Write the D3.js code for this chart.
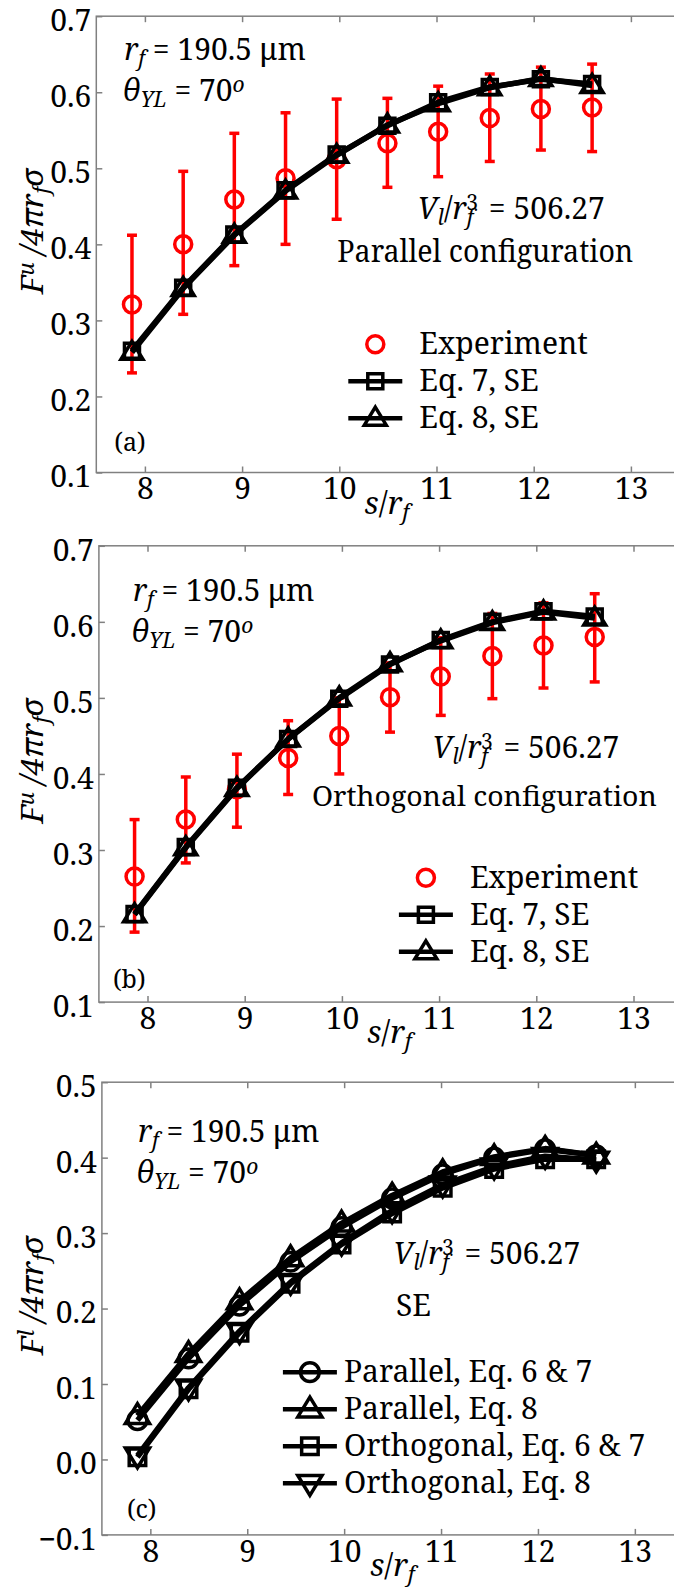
<!DOCTYPE html>
<html>
<head>
<meta charset="utf-8">
<script src="https://cdn.jsdelivr.net/npm/d3@7"></script>
<style>
  body { margin: 0; background: #fff; }
  svg text { font-family: "Noto Serif", "Liberation Serif", serif !important; fill: #000; }
</style>
</head>
<body>
<svg width="674" height="1595"></svg>
<script>
// s / r_f positions shared by all panels
var sr = [7.867, 8.394, 8.920, 9.447, 9.973, 10.495, 11.017, 11.548, 12.074, 12.601];

// (a) parallel configuration, upper force
var expA = [0.321, 0.400, 0.459, 0.487, 0.512, 0.533, 0.548, 0.566, 0.578, 0.580];
var expA_lo = [0.231, 0.308, 0.372, 0.400, 0.433, 0.475, 0.489, 0.509, 0.524, 0.522];
var expA_hi = [0.412, 0.496, 0.546, 0.573, 0.591, 0.592, 0.608, 0.624, 0.633, 0.637];
var eq7A = [0.260, 0.343, 0.413, 0.471, 0.518, 0.556, 0.587, 0.607, 0.617, 0.611];
var eq8A = [0.258, 0.342, 0.412, 0.470, 0.517, 0.557, 0.585, 0.606, 0.618, 0.609];

// (b) orthogonal configuration, upper force
var expB = [0.265, 0.340, 0.380, 0.421, 0.450, 0.501, 0.528, 0.555, 0.569, 0.580];
var expB_lo = [0.192, 0.283, 0.330, 0.373, 0.400, 0.455, 0.477, 0.499, 0.513, 0.521];
var expB_hi = [0.340, 0.396, 0.426, 0.470, 0.500, 0.546, 0.579, 0.611, 0.625, 0.637];
var eq7B = [0.216, 0.304, 0.382, 0.446, 0.499, 0.544, 0.576, 0.600, 0.614, 0.607];
var eq8B = [0.215, 0.303, 0.381, 0.446, 0.500, 0.545, 0.575, 0.599, 0.613, 0.605];

// (c) lower force
var parEq67 = [0.052, 0.134, 0.204, 0.262, 0.308, 0.346, 0.378, 0.400, 0.411, 0.403];
var parEq8 = [0.058, 0.140, 0.210, 0.267, 0.313, 0.350, 0.381, 0.401, 0.412, 0.403];
var ortEq67 = [0.003, 0.093, 0.168, 0.233, 0.285, 0.326, 0.360, 0.385, 0.398, 0.398];
var ortEq8 = [0.005, 0.095, 0.170, 0.235, 0.287, 0.330, 0.364, 0.388, 0.402, 0.397];

var xTicks = [8, 9, 10, 11, 12, 13];
var yTicksAB = [0.1, 0.2, 0.3, 0.4, 0.5, 0.6, 0.7];
var yTicksC = [-0.1, 0.0, 0.1, 0.2, 0.3, 0.4, 0.5];

var svg = d3.select("svg");
var fmt = d3.format(".1f");
var TXT = 30;

// marker shapes
function marker(g, type, x, y, color, s) {
  s = s || 1;
  var p;
  if (type == "circle") {
    return g.append("circle").attr("cx", x).attr("cy", y).attr("r", 8.5 * s)
      .attr("fill", "none").attr("stroke", color).attr("stroke-width", 3.5);
  }
  if (type == "square") p = "M" + (x-7.5*s) + "," + (y-7.5*s) + "h" + 15*s + "v" + 15*s + "h" + (-15*s) + "z";
  if (type == "up") p = "M" + x + "," + (y-11*s) + "L" + (x+11*s) + "," + (y+7*s) + "L" + (x-11*s) + "," + (y+7*s) + "Z";
  if (type == "down") p = "M" + x + "," + (y+11*s) + "L" + (x+11*s) + "," + (y-7*s) + "L" + (x-11*s) + "," + (y-7*s) + "Z";
  return g.append("path").attr("d", p).attr("fill", "none")
    .attr("stroke", color).attr("stroke-width", 3.5).attr("stroke-linejoin", "miter");
}

// text with sub / sup parts: [string, kind, dx]
function mtext(g, x, y, parts, size) {
  var t = g.append("text").attr("x", x).attr("y", y).style("font-size", size + "px");
  parts.forEach(function(p) {
    var s = t.append("tspan").text(p[0]);
    if (p[1].indexOf("i") >= 0) s.style("font-style", "italic");
    if (p[1].indexOf("b") >= 0) s.style("baseline-shift", "-28%").style("font-size", (size*0.7) + "px");
    if (p[1].indexOf("p") >= 0) s.style("baseline-shift", "42%").style("font-size", (size*0.7) + "px");
    if (p[2]) s.attr("dx", p[2]);
  });
  return t;
}

function panel(cfg) {
  var g = svg.append("g");
  var x = d3.scaleLinear().domain([7.5, 13.5]).range([cfg.left, cfg.left + 6 * cfg.unit]);
  var y = d3.scaleLinear().domain(cfg.ydom).range([cfg.bottom, cfg.top]);

  // frame
  g.append("rect").attr("x", x.range()[0]).attr("y", cfg.top)
    .attr("width", x.range()[1] - x.range()[0]).attr("height", cfg.bottom - cfg.top)
    .attr("fill", "none").attr("stroke", "#808080").attr("stroke-width", 1.5);

  var xb = g.append("g").attr("transform", "translate(0," + cfg.bottom + ")")
    .call(d3.axisBottom(x).tickValues(xTicks).tickSizeInner(-6).tickSizeOuter(0).tickPadding(5).tickFormat(d3.format("d")));
  var xt = g.append("g").attr("transform", "translate(0," + cfg.top + ")")
    .call(d3.axisTop(x).tickValues(xTicks).tickSizeInner(-6).tickSizeOuter(0).tickFormat(""));
  var yl = g.append("g").attr("transform", "translate(" + cfg.left + ",0)")
    .call(d3.axisLeft(y).tickValues(cfg.yticks).tickSizeInner(-6).tickSizeOuter(0).tickPadding(5).tickFormat(fmt));
  [xb, xt, yl].forEach(function(a) {
    a.select(".domain").remove();
    a.selectAll(".tick line").attr("stroke", "#808080").attr("stroke-width", 1.5);
    a.selectAll("text").attr("font-size", 30).attr("fill", "#000");
  });
  xb.selectAll("text").attr("dy", "0.72em");
  yl.selectAll("text").attr("dy", "0.48em");

  // axis titles
  mtext(g, cfg.left + 268, cfg.bottom + 41, [["s", "i"], ["/", ""], ["r", "i"], ["f", "ib"]], 31);
  mtext(g, 0, 0, cfg.ylab, 31)
    .attr("text-anchor", "middle")
    .attr("transform", "translate(" + 43 + "," + ((cfg.top + cfg.bottom) / 2 - 13) + ") rotate(-90)");

  cfg.draw(g, x, y);

  // annotations
  mtext(g, cfg.left + cfg.ann[0], cfg.top + cfg.ann[1], [["r", "i"], ["f", "ib"], [" = 190.5 \u03bcm", ""]], TXT);
  mtext(g, cfg.left + cfg.ann[0] - 2, cfg.top + cfg.ann[1] + 41, [["\u03b8", "i"], ["YL", "ib"], [" = 70", ""], ["o", "ip"]], TXT);
  mtext(g, cfg.left + cfg.vl[0], cfg.top + cfg.vl[1], [["V", "i"], ["l", "ib"], ["/", ""], ["r", "i"], ["f", "ib"], ["3", "p", -7], [" = 506.27", "", 3]], TXT);
  var ct = g.append("text").attr("x", cfg.left + cfg.cfgText[0]).attr("y", cfg.top + cfg.cfgText[1])
    .style("font-size", (cfg.cfgText[4] || TXT) + "px").text(cfg.cfgText[2]);
  if (cfg.cfgText[3]) ct.attr("textLength", cfg.cfgText[3]).attr("lengthAdjust", "spacingAndGlyphs");
  g.append("text").attr("x", cfg.left + cfg.tag[0]).attr("y", cfg.bottom - cfg.tag[1])
    .style("font-size", "25px").text(cfg.tag[2]);

  // legend
  cfg.legend.forEach(function(l, i) {
    var ly = cfg.top + cfg.leg[1] + i * cfg.leg[3];
    var lx = cfg.left + cfg.leg[0];
    if (l.line) {
      g.append("line").attr("x1", lx - 27).attr("x2", lx + 27).attr("y1", ly).attr("y2", ly)
        .attr("stroke", "#000").attr("stroke-width", 4.5);
    }
    marker(g, l.shape, lx, ly, l.color, cfg.ms);
    g.append("text").attr("x", lx + cfg.leg[2]).attr("y", ly + 10).style("font-size", TXT + "px").text(l.label);
  });
}

function modelLine(g, x, y, vals, shape, s) {
  var line = d3.line().x(function(d, i) { return x(sr[i]); }).y(function(d) { return y(d); });
  g.append("path").datum(vals).attr("d", line).attr("fill", "none")
    .attr("stroke", "#000").attr("stroke-width", 5.5).attr("stroke-linejoin", "round");
  vals.forEach(function(v, i) { marker(g, shape, x(sr[i]), y(v), "#000", s); });
}

function expPoints(g, x, y, vals, lo, hi) {
  vals.forEach(function(v, i) {
    var cx = x(sr[i]);
    g.append("line").attr("x1", cx).attr("x2", cx).attr("y1", y(lo[i])).attr("y2", y(hi[i]))
      .attr("stroke", "#ff0000").attr("stroke-width", 3.5);
    [lo[i], hi[i]].forEach(function(e) {
      g.append("line").attr("x1", cx - 5).attr("x2", cx + 5).attr("y1", y(e)).attr("y2", y(e))
        .attr("stroke", "#ff0000").attr("stroke-width", 3.5);
    });
    marker(g, "circle", cx, y(v), "#ff0000");
  });
}

var ylabU = [["F", "i"], ["u", "ip"], [" /4\u03c0", "i"], ["r", "i"], ["f", "ib"], ["\u03c3", "i"]];
var ylabL = [["F", "i"], ["l", "ip"], [" /4\u03c0", "i"], ["r", "i"], ["f", "ib"], ["\u03c3", "i"]];
var legUpper = [
  { shape: "circle", color: "#ff0000", line: false, label: "Experiment" },
  { shape: "square", color: "#000", line: true, label: "Eq. 7, SE" },
  { shape: "up", color: "#000", line: true, label: "Eq. 8, SE" }
];

panel({
  left: 96.3, unit: 97.2, top: 16.2, bottom: 472.5, ydom: [0.1, 0.7], yticks: yTicksAB, ylab: ylabU,
  ann: [28, 44], vl: [321, 203], cfgText: [241, 246, "Parallel configuration", 296], tag: [18, 22, "(a)"],
  leg: [279, 328, 44, 37], legend: legUpper, ms: 1,
  draw: function(g, x, y) {
    expPoints(g, x, y, expA, expA_lo, expA_hi);
    modelLine(g, x, y, eq7A, "square");
    modelLine(g, x, y, eq8A, "up");
  }
});

panel({
  left: 98.9, unit: 97.2, top: 545.8, bottom: 1002.1, ydom: [0.1, 0.7], yticks: yTicksAB, ylab: ylabU,
  ann: [34, 55], vl: [333, 212], cfgText: [213, 260, "Orthogonal configuration", 345, 28], tag: [14, 14, "(b)"],
  leg: [327, 332, 44, 37], legend: legUpper, ms: 1,
  draw: function(g, x, y) {
    expPoints(g, x, y, expB, expB_lo, expB_hi);
    modelLine(g, x, y, eq7B, "square");
    modelLine(g, x, y, eq8B, "up");
  }
});

panel({
  left: 101.9, unit: 96.9, top: 1082.2, bottom: 1534.9, ydom: [-0.1, 0.5], yticks: yTicksC, ylab: ylabL,
  ann: [36, 60], vl: [291, 182], cfgText: [294, 234, "SE"], tag: [25, 17, "(c)"],
  leg: [208, 290, 34, 37], ms: 1.1,
  legend: [
    { shape: "circle", color: "#000", line: true, label: "Parallel, Eq. 6 & 7" },
    { shape: "up", color: "#000", line: true, label: "Parallel, Eq. 8" },
    { shape: "square", color: "#000", line: true, label: "Orthogonal, Eq. 6 & 7" },
    { shape: "down", color: "#000", line: true, label: "Orthogonal, Eq. 8" }
  ],
  draw: function(g, x, y) {
    modelLine(g, x, y, parEq67, "circle", 1.1);
    modelLine(g, x, y, parEq8, "up", 1.1);
    modelLine(g, x, y, ortEq67, "square", 1.1);
    modelLine(g, x, y, ortEq8, "down", 1.1);
  }
});
</script>
</body>
</html>
